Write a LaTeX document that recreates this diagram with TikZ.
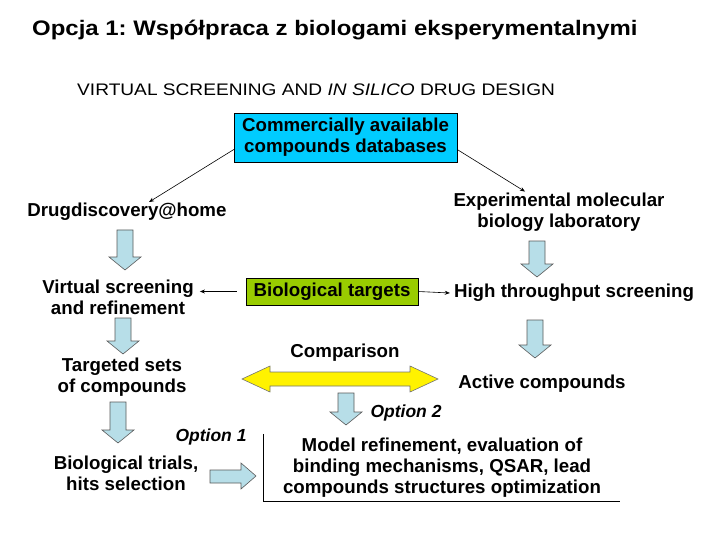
\documentclass[tikz,border=0pt]{standalone}
\usepackage{fontspec}
\setmainfont{Liberation Sans}
\usetikzlibrary{arrows.meta, positioning}
\frenchspacing

\definecolor{dbcyan}{RGB}{0,204,255}
\definecolor{targetgreen}{RGB}{153,204,0}
\definecolor{flowblue}{RGB}{183,222,232}

\begin{document}
\begin{tikzpicture}[x=1pt, y=-1pt,
    lbl/.style={font=\fontsize{18.7}{21}\selectfont\bfseries, align=center, inner sep=1pt},
    opt/.style={font=\fontsize{17.5}{21}\selectfont\bfseries\itshape, inner sep=1pt},
    thinarrow/.style={-{Stealth[length=5pt, width=4pt]}, line width=0.6pt},
    flowarrow/.style={draw=black!65, fill=flowblue, line width=0.6pt, line join=miter}]
    \useasboundingbox (0,0) rectangle (720,540);

    % Titles
    \node[anchor=west, font=\fontsize{21}{24}\selectfont\bfseries, inner sep=0pt, xscale=1.14] (title) at (32,30)
        {Opcja 1: Współpraca z biologami eksperymentalnymi};
    \node[anchor=west, font=\fontsize{16.7}{19}\selectfont, inner sep=0pt, xscale=1.145] (subtitle) at (77,90)
        {VIRTUAL SCREENING AND \textit{IN SILICO} DRUG DESIGN};

    % Databases
    \node[lbl, draw, fill=dbcyan, minimum width=223pt, minimum height=49pt] (db) at (345.5,137.5)
        {Commercially available\\compounds databases};

    % Left branch
    \node[lbl] (dd) at (127,212) {Drugdiscovery@home};
    \node[lbl] (vs) at (118,297) {Virtual screening\\and refinement};
    \node[lbl] (ts) at (122,377) {Targeted sets\\of compounds};
    \node[lbl] (bio) at (126,473) {Biological trials,\\hits selection};

    % Right branch
    \node[lbl] (exp) at (559,212) {Experimental molecular\\biology laboratory};
    \node[lbl] (hts) at (574,293) {High throughput screening};
    \node[lbl] (act) at (542,384) {Active compounds};

    % Targets
    \node[lbl, draw, fill=targetgreen, minimum width=172pt, minimum height=27pt] (bt) at (332,291.5)
        {Biological targets};

    % Comparison
    \node[lbl] (cmp) at (345,353) {Comparison};
    \draw[draw=black!55, fill=yellow, line width=0.6pt]
        (242,379) -- (270,366) -- (270,372) -- (410,372) -- (410,366) -- (438,379)
        -- (410,392) -- (410,386) -- (270,386) -- (270,392) -- cycle;
    \node[opt] (opt2) at (406,413) {Option 2};
    \node[opt] (opt1) at (211,437) {Option 1};

    % Block arrows (x / top / tip)
    \foreach \x/\ya/\yb in {125/230/270, 537/241/277, 123/318/354, 535/320/358, 118/402/443, 346/393/425}
        \draw[flowarrow] (\x-8,\ya) -- (\x+8,\ya) -- (\x+8,\yb-13) -- (\x+16,\yb-13) -- (\x,\yb)
            -- (\x-16,\yb-13) -- (\x-8,\yb-13) -- cycle;
    \draw[flowarrow] (210,470) -- (241,470) -- (241,463) -- (256,476) -- (241,489) -- (241,483)
        -- (210,483) -- cycle;

    % Model refinement
    \node[lbl, minimum width=356pt, minimum height=67pt] (mr) at (442,467.5)
        {Model refinement, evaluation of\\binding mechanisms, QSAR, lead\\compounds structures optimization};
    \draw[line width=0.7pt] (mr.north west) |- (mr.south east);

    % Connections
    \draw[thinarrow] ([yshift=-12pt]db.west) -- ([xshift=22pt]dd.north);
    \draw[thinarrow] ([yshift=-12pt]db.east) -- ([xshift=-34pt]exp.north);
    \draw[thinarrow] ([xshift=-9pt]bt.west) -- ([xshift=5pt]vs.east |- bt.west);
    \draw[thinarrow] (bt.east) -- ([xshift=-3pt]hts.west);
\end{tikzpicture}
\end{document}
